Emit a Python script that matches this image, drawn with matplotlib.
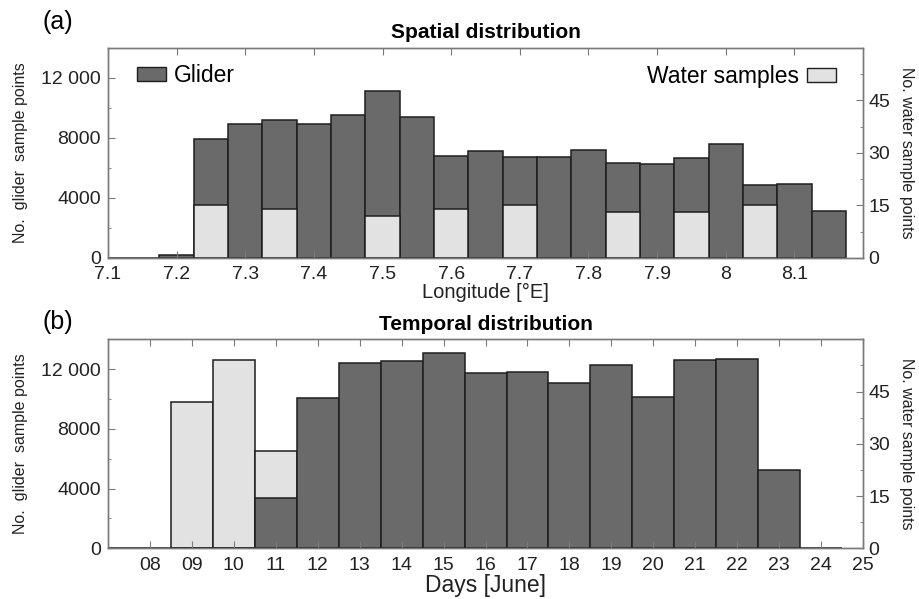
import matplotlib
matplotlib.use("Agg")
import matplotlib.pyplot as plt
from matplotlib.ticker import FuncFormatter, MultipleLocator, FixedLocator
from matplotlib.patches import Patch

plt.rcParams['font.family'] = ['Liberation Sans', 'DejaVu Sans']

# ---- spatial distribution (bins of 0.05 deg longitude) ----
lon_centers = [7.10, 7.15, 7.20, 7.25, 7.30, 7.35, 7.40, 7.45, 7.50, 7.55, 7.60,
               7.65, 7.70, 7.75, 7.80, 7.85, 7.90, 7.95, 8.00, 8.05, 8.10, 8.15]
glider_lon = [0, 0, 200, 7900, 8900, 9200, 8900, 9500, 11150, 9400, 6800,
              7100, 6750, 6700, 7200, 6350, 6270, 6650, 7600, 4870, 4900, 3100]
water_lon = [0, 0, 0, 15, 0, 14, 0, 0, 12, 0, 14,
             0, 15, 0, 0, 13, 0, 13, 0, 15, 0, 0]
lon_ticks = [7.1, 7.2, 7.3, 7.4, 7.5, 7.6, 7.7, 7.8, 7.9, 8.0, 8.1]
lon_ticklabels = ["7.1", "7.2", "7.3", "7.4", "7.5", "7.6", "7.7", "7.8", "7.9", "8", "8.1"]

# ---- temporal distribution (daily bins, June) ----
days = [7, 8, 9, 10, 11, 12, 13, 14, 15, 16, 17, 18, 19, 20, 21, 22, 23, 24]
glider_day = [0, 0, 0, 0, 3400, 10100, 12400, 12550, 13050, 11750, 11800,
              11050, 12300, 10150, 12600, 12700, 5250, 0]
water_day = [0, 0, 42, 54, 28, 0, 0, 0, 0, 0, 0, 0, 0, 0, 0, 0, 0, 0]
day_ticks = list(range(8, 26))

DARK = "#6a6a6a"
LIGHT = "#e2e2e2"
EDGE = "#1e1e1e"
SPINE = "#7a7a7a"
TXT = "#222222"

fig = plt.figure(figsize=(9.2, 5.99), dpi=100)
L, W = 0.1174, 0.8207
ax_a = fig.add_axes([L, 0.5693, W, 0.3506])
ax_b = fig.add_axes([L, 0.0846, W, 0.349])


def thousands(v, _):
    v = int(round(v))
    return f"{v // 1000} {v % 1000:03d}" if v >= 10000 else f"{v}"


def style_axes(ax, ax2):
    for a in (ax, ax2):
        for s in a.spines.values():
            s.set_color(SPINE)
            s.set_linewidth(1.0)
    ax.set_ylim(0, 14000)
    ax2.set_ylim(0, 60)
    ax.yaxis.set_major_locator(FixedLocator([0, 4000, 8000, 12000]))
    ax.yaxis.set_minor_locator(MultipleLocator(2000))
    ax.yaxis.set_major_formatter(FuncFormatter(thousands))
    ax2.yaxis.set_major_locator(FixedLocator([0, 15, 30, 45]))
    ax2.yaxis.set_minor_locator(MultipleLocator(7.5))
    ax.tick_params(axis='both', which='major', direction='in', length=5,
                   color=SPINE, labelsize=14, labelcolor=TXT, top=True)
    ax.tick_params(axis='x', which='major', pad=6)
    ax.tick_params(axis='y', which='major', pad=5)
    ax.tick_params(axis='y', which='minor', direction='in', length=2.5, color=SPINE)
    ax.tick_params(axis='y', right=False)
    ax2.tick_params(axis='y', which='major', direction='in', length=5,
                    color=SPINE, labelsize=14, labelcolor=TXT, pad=4)
    ax2.tick_params(axis='y', which='minor', direction='in', length=2.5, color=SPINE)
    ax.set_ylabel("No.  glider  sample points", fontsize=11.5, color=TXT,
                  rotation=90, ha='center', va='center')
    ax.yaxis.set_label_coords(-0.116, 0.5)
    ax2.set_ylabel("No. water sample points", fontsize=11.5, color=TXT,
                   rotation=270, ha='center', va='center')
    ax2.yaxis.set_label_coords(1.058, 0.5)


# ---- panel (a) ----
ax_a2 = ax_a.twinx()
ax_a.bar(lon_centers, glider_lon, width=0.05, color=DARK, edgecolor=EDGE, linewidth=1.1)
lc_w = [c for c, v in zip(lon_centers, water_lon) if v > 0]
wv = [v for v in water_lon if v > 0]
ax_a2.bar(lc_w, wv, width=0.05, color=LIGHT, edgecolor=EDGE, linewidth=1.1)
ax_a.set_xlim(7.1, 8.2)
ax_a.set_xticks(lon_ticks)
ax_a.set_xticklabels(lon_ticklabels)
style_axes(ax_a, ax_a2)
ax_a.set_xlabel("Longitude [\u00b0E]", fontsize=14.5, color=TXT, labelpad=0)
ax_a.set_title("Spatial distribution", fontsize=15, fontweight='bold', pad=7)

ax_a.legend(handles=[Patch(facecolor=DARK, edgecolor=EDGE, linewidth=1.0, label="Glider")],
            loc='upper left', bbox_to_anchor=(0.02, 0.99), frameon=False,
            fontsize=16.5, handlelength=1.25, handleheight=0.55, handletextpad=0.35,
            borderaxespad=0.2)
ax_a2.legend(handles=[Patch(facecolor=LIGHT, edgecolor=EDGE, linewidth=1.0, label="Water samples")],
             loc='upper right', bbox_to_anchor=(0.982, 0.985), frameon=False,
             fontsize=16.5, handlelength=1.25, handleheight=0.55, handletextpad=0.35,
             markerfirst=False, borderaxespad=0.2)

# ---- panel (b) ----
ax_b2 = ax_b.twinx()
ax_b.set_zorder(ax_b2.get_zorder() + 1)
ax_b.patch.set_visible(False)
ax_b.bar(days, glider_day, width=1.0, color=DARK, edgecolor=EDGE, linewidth=1.1)
d_w = [d for d, v in zip(days, water_day) if v > 0]
wd = [v for v in water_day if v > 0]
ax_b2.bar(d_w, wd, width=1.0, color=LIGHT, edgecolor=EDGE, linewidth=1.1)
ax_b.set_xlim(7, 25)
ax_b.set_xticks(day_ticks)
ax_b.set_xticklabels([f"{d:02d}" for d in day_ticks])
style_axes(ax_b, ax_b2)
ax_b.set_xlabel("Days [June]", fontsize=16.5, color=TXT, labelpad=0)
ax_b.set_title("Temporal distribution", fontsize=15, fontweight='bold', pad=7)

fig.text(0.046, 0.963, "(a)", fontsize=18, va='center', ha='left')
fig.text(0.046, 0.463, "(b)", fontsize=18, va='center', ha='left')

fig.savefig("out.png", dpi=100)
